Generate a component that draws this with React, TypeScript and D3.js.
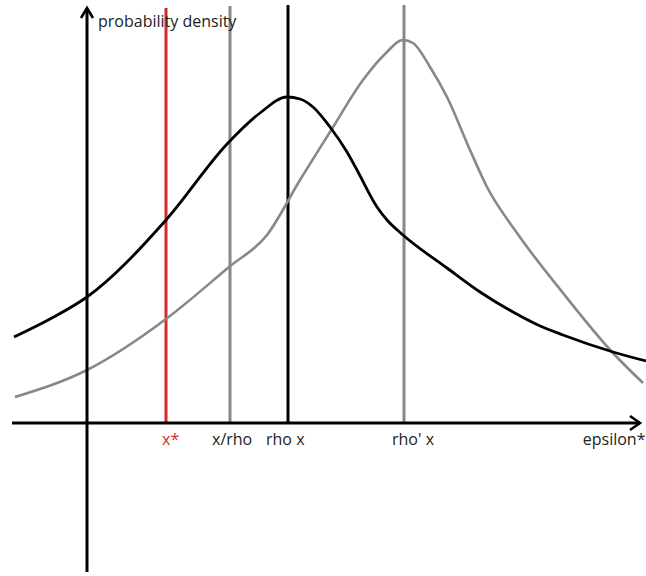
import React from "react";
import * as d3 from "d3";

// horizontal value (epsilon*) in arbitrary units, vertical value = probability density
const blackCurveX = [-1.46, -0.74, 0, 1.58, 2.82, 3.46, 4.0, 4.26, 4.52, 4.86, 5.2, 5.4, 5.8, 6.0, 6.32, 7.2, 7.86, 8.52, 9.02, 9.52, 10.52, 11.18];
const blackCurveY = [0.86, 1.04, 1.26, 2.03, 2.8, 3.1, 3.26, 3.24, 3.16, 2.96, 2.71, 2.53, 2.16, 2.03, 1.88, 1.55, 1.31, 1.11, 0.98, 0.88, 0.71, 0.62];

const grayCurveX = [-1.44, 0, 1.58, 2.84, 3.6, 4.26, 4.86, 5.52, 5.96, 6.32, 6.52, 6.86, 7.2, 7.66, 8.0, 8.6, 9.52, 10.52, 11.12];
const grayCurveY = [0.26, 0.53, 1.04, 1.56, 1.88, 2.43, 2.91, 3.43, 3.69, 3.83, 3.8, 3.56, 3.26, 2.73, 2.36, 1.9, 1.3, 0.7, 0.4];

const markerLabels = ["x*", "x/rho", "rho x", "rho' x"];
const markerValues = [1.58, 2.86, 4.02, 6.34];
const markerTops = [4.15, 4.17, 4.18, 4.18];
const labelStarts = [1.5, 2.5, 3.58, 6.1];

const xAxisLabel = "epsilon*";
const yAxisLabel = "probability density";

const W = 646;
const H = 576;

export default function App() {
  const x = d3.scaleLinear().domain([-1.74, 11.18]).range([0, 646]);
  const y = d3.scaleLinear().domain([0, 4.15]).range([423, 8]);

  const line = d3
    .line<[number, number]>()
    .x((d) => x(d[0]))
    .y((d) => y(d[1]))
    .curve(d3.curveMonotoneX);

  const black = blackCurveX.map((v, i) => [v, blackCurveY[i]] as [number, number]);
  const gray = grayCurveX.map((v, i) => [v, grayCurveY[i]] as [number, number]);

  const markerColors = ["#d42a2a", "#888888", "#000000", "#888888"];
  const labelColors = ["#d42a2a", "#222222", "#222222", "#222222"];

  const x0 = x(0);
  const y0 = y(0);
  const xEnd = x(11.06);
  const yTop = y(4.15);
  const font = "'Open Sans', 'Noto Sans', sans-serif";
  const fs = 16;

  return (
    <svg
      width={W}
      height={H}
      style={{ position: "absolute", left: 0, top: 0, background: "#fff" }}
    >
      <rect width={W} height={H} fill="#fff" />
      {markerValues.map((v, i) => (
        <line
          key={i}
          x1={x(v)}
          x2={x(v)}
          y1={y(markerTops[i])}
          y2={y0}
          stroke={markerColors[i]}
          strokeWidth={3}
        />
      ))}
      <path d={line(gray) || ""} fill="none" stroke="#888888" strokeWidth={2.6} strokeLinejoin="round" />
      <path d={line(black) || ""} fill="none" stroke="#000000" strokeWidth={2.8} strokeLinejoin="round" />
      <line x1={x(-1.5)} x2={xEnd} y1={y0} y2={y0} stroke="#000" strokeWidth={3} />
      <line x1={x0} x2={x0} y1={y(-1.49)} y2={yTop} stroke="#000" strokeWidth={3} />
      <path
        d={`M${xEnd - 10},${y0 - 7} L${xEnd},${y0} L${xEnd - 10},${y0 + 7}`}
        fill="none"
        stroke="#000"
        strokeWidth={2.6}
      />
      <path
        d={`M${x0 - 6},${yTop + 10} L${x0},${yTop} L${x0 + 6},${yTop + 10}`}
        fill="none"
        stroke="#000"
        strokeWidth={2.6}
      />
      <text x={x0 + 11} y={27} fontFamily={font} fontSize={fs} fill="#222">
        {yAxisLabel}
      </text>
      {markerLabels.map((t, i) => (
        <text
          key={t}
          x={x(labelStarts[i])}
          y={445}
          fontFamily={font}
          fontSize={fs}
          fill={labelColors[i]}
        >
          {t}
        </text>
      ))}
      <text x={x(11.17)} y={445} fontFamily={font} fontSize={fs} fill="#222" textAnchor="end">
        {xAxisLabel}
      </text>
    </svg>
  );
}
